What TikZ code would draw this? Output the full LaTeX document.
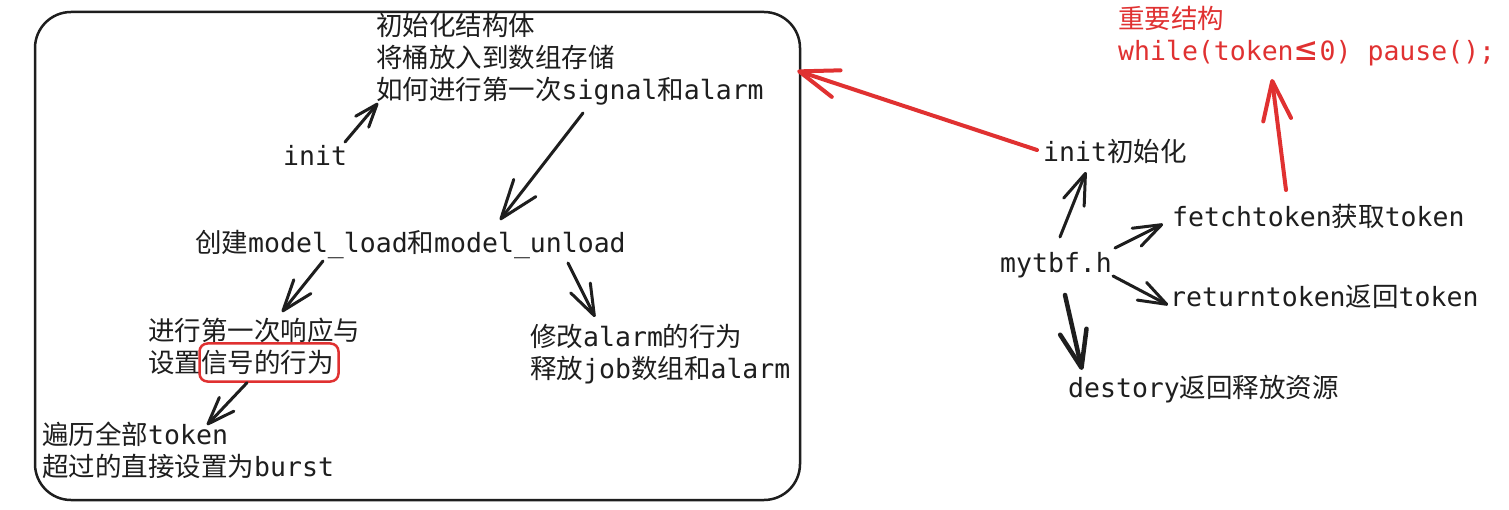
\documentclass[tikz,border=0pt]{standalone}
\usepackage{fontspec}
\usepackage{graphicx}
\setmainfont{DejaVu Sans Mono}
\newfontfamily\zhfont{Noto Sans CJK SC}
\newcommand\zh[1]{{\zhfont #1}}
\usetikzlibrary{arrows.meta}
\definecolor{ink}{HTML}{1E1E1E}
\definecolor{exred}{HTML}{E03131}
\begin{document}
\begin{tikzpicture}[x=1pt,y=-1pt,
  txt/.style={inner sep=0pt, anchor=base west, align=left, text=ink, font=\fontsize{26.5}{32}\selectfont},
  redtxt/.style={txt, text=exred},
  frame/.style={draw=ink, line width=2.5pt, rounded corners=36pt, minimum width=765pt, minimum height=488pt, inner sep=0pt},
  hlbox/.style={draw=exred, line width=2.5pt, rounded corners=8pt, minimum width=139pt, minimum height=38pt, inner sep=0pt},
  arr/.style n args={2}{draw=ink, line width=3pt, line cap=round, -{Straight Barb[length=#1pt, width=#2pt, round]}},
  redarr/.style n args={2}{draw=exred, line width=4pt, line cap=round, -{Straight Barb[length=#1pt, width=#2pt, round]}}]
\useasboundingbox (0,0) rectangle (1509,510);
\fill[white] (0,0) rectangle (1509,510);
% frame
\node[frame] (frame) at (417.5,256) {};
% texts (multi-line nodes are placed by the baseline of their last line)
\node[txt] (t1) at (376,100) {\zh{初始化结构体}\\\zh{将桶放入到数组存储}\\\zh{如何进行第一次}signal\zh{和}alarm};
\node[txt] (init) at (283,166) {init};
\node[txt] (create) at (195,253) {\zh{创建}model\_load\zh{和}model\_unload};
\node[txt] (resp) at (148,372) {\zh{进行第一次响应与}\\\zh{设置信号的行为}};
\node[hlbox] (hl) at (269,362.5) {};
\node[txt] (modify) at (530,378) {\zh{修改}alarm\zh{的行为}\\\zh{释放}job\zh{数组和}alarm};
\node[txt] (trav) at (42,476) {\zh{遍历全部}token\\\zh{超过的直接设置为}burst};
\node[txt] (initz) at (1043,162) {init\zh{初始化}};
\node[txt] (mytbf) at (1000,273) {mytbf.h};
\node[txt] (fetch) at (1172,227) {fetchtoken\zh{获取}token};
\node[txt] (ret) at (1170,307) {returntoken\zh{返回}token};
\node[txt] (destroy) at (1068,397) {destory\zh{返回释放资源}};
\node[redtxt] (imp) at (1118,61) {\zh{重要结构}\\while(token\makebox[26pt]{\scalebox{1.35}{≤}}0) pause();};
% arrows
\draw[arr={23}{17}] ([shift={(62,-24)}]init.base west) -- ([shift={(2,3)}]t1.base west);
\draw[arr={39}{28}] ([shift={(207,13)}]t1.base west) -- ([shift={(305,-33)}]create.base west);
\draw[arr={31}{22}] ([shift={(128,8)}]create.base west) -- ([shift={(134,-60)}]resp.base west);
\draw[arr={31}{22}] ([shift={(373,10)}]create.base west) -- ([shift={(65,-61)}]modify.base west);
\draw[arr={27}{20}] ([xshift=-22pt]hl.south) -- ([shift={(165,-51)}]trav.base west);
\draw[arr={31}{22}] ([shift={(60,-36)}]mytbf.base west) -- ([shift={(43,10)}]initz.base west);
\draw[arr={28}{20}] ([shift={(115,-25)}]mytbf.base west) -- ([shift={(-9,-3)}]fetch.base west);
\draw[arr={28}{20}] ([shift={(113,3)}]mytbf.base west) -- ([shift={(-2,-2)}]ret.base west);
\draw[arr={37}{27}, line width=4.5pt] ([shift={(65,22)}]mytbf.base west) -- ([shift={(14,-27)}]destroy.base west);
\draw[redarr={39}{28}] ([shift={(-6,-12)}]initz.base west) -- ([shift={(-4,60)}]frame.north east);
\draw[redarr={39}{28}] ([shift={(114,-37)}]fetch.base west) -- ([shift={(154,18)}]imp.base west);
\end{tikzpicture}
\end{document}
